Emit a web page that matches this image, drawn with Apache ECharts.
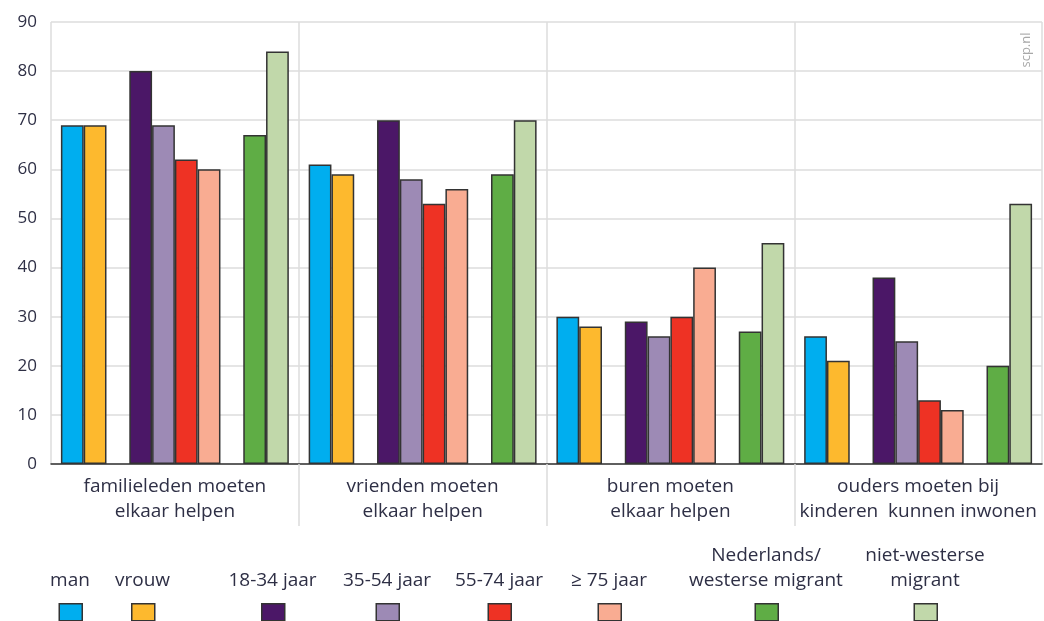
<!DOCTYPE html>
<html>
<head>
<meta charset="utf-8">
<script src="https://cdn.jsdelivr.net/npm/echarts@6/dist/echarts.min.js"></script>
<style>html,body{margin:0;padding:0;background:#fff}#c{width:1044px;height:621px}</style>
</head>
<body>
<div id="c"></div>
<script>
const categories = [
  'familieleden moeten\nelkaar helpen',
  'vrienden moeten\nelkaar helpen',
  'buren moeten\nelkaar helpen',
  'ouders moeten bij\nkinderen  kunnen inwonen'
];
const seriesNames = ['man', 'vrouw', '18-34 jaar', '35-54 jaar', '55-74 jaar', '≥ 75 jaar', 'Nederlands/\nwesterse migrant', 'niet-westerse\nmigrant'];
const man = [69, 61, 30, 26];
const vrouw = [69, 59, 28, 21];
const age18_34 = [80, 70, 29, 38];
const age35_54 = [69, 58, 26, 25];
const age55_74 = [62, 53, 30, 13];
const age75plus = [60, 56, 40, 11];
const nlWesters = [67, 59, 27, 20];
const nietWesters = [84, 70, 45, 53];
const emptyGap = ['-', '-', '-', '-'];
const yTicks = { min: 0, max: 90, interval: 10 };
const groupBoundaries = [1, 2, 3];

const colors = ['#00AEEF', '#FDB92E', '#4B1767', '#9D8AB5', '#EE3224', '#F9AC92', '#5FAD45', '#C1D8AA'];
const values = [man, vrouw, age18_34, age35_54, age55_74, age75plus, nlWesters, nietWesters];
const legendX = [70, 142.5, 272.5, 387, 499, 609, 766, 925];

const textColor = '#2e2f45';
const border = { borderColor: '#333', borderWidth: 1.5 };

function barSeries(i) {
  return {
    name: seriesNames[i], type: 'bar', data: values[i],
    itemStyle: Object.assign({ color: colors[i] }, border),
    barGap: 0, barCategoryGap: '8%', silent: true
  };
}
function gapSeries(k) {
  return { name: 'gap' + k, type: 'bar', data: emptyGap, barGap: 0, barCategoryGap: '8%', silent: true };
}
const series = [barSeries(0), barSeries(1), gapSeries(1), barSeries(2), barSeries(3), barSeries(4), barSeries(5), gapSeries(2), barSeries(6), barSeries(7)];

const legends = seriesNames.map((n, i) => ({
  data: [n], left: legendX[i] - 11.5, top: 603, itemWidth: 23, itemHeight: 17,
  icon: 'rect', selectedMode: false, formatter: () => '',
  itemStyle: border, padding: 0
}));

const graphics = seriesNames.map((n, i) => ({
  type: 'text', x: legendX[i], y: 593,
  style: { text: n, fill: textColor, font: '19px "Open Sans"', align: 'center', verticalAlign: 'bottom', lineHeight: 25 }
}));
graphics.push({
  type: 'text', x: 1026, y: 50, rotation: Math.PI / 2,
  style: { text: 'scp.nl', fill: '#a8a8a8', font: '13px "Open Sans"', align: 'center', verticalAlign: 'middle', backgroundColor: '#fff', padding: [0, 3] }
});

const chart = echarts.init(document.getElementById('c'), null, { renderer: 'canvas' });
chart.setOption({
  animation: false,
  backgroundColor: '#fff',
  textStyle: { fontFamily: 'Open Sans' },
  grid: { left: 51, right: 2, top: 22, bottom: 157, containLabel: false },
  xAxis: [{
    type: 'category', data: categories,
    axisLine: { lineStyle: { color: '#333', width: 1.5 } },
    axisTick: { alignWithLabel: true, length: 8, lineStyle: { color: '#333', width: 1.5 } },
    axisLabel: { fontSize: 19, color: textColor, lineHeight: 25, margin: 10, interval: 0 },
    splitLine: { show: true, lineStyle: { color: '#dcdcdc', width: 1.5 } }
  }, {
    type: 'value', min: 0, max: 4, position: 'bottom',
    axisLine: { show: false },
    axisLabel: { show: false },
    splitLine: { show: false },
    axisTick: { show: true, customValues: groupBoundaries, length: 62, lineStyle: { color: '#dcdcdc', width: 1.5 } }
  }],
  yAxis: {
    type: 'value', min: yTicks.min, max: yTicks.max, interval: yTicks.interval,
    axisLine: { show: false }, axisTick: { show: false },
    axisLabel: { fontSize: 17, color: textColor, margin: 14 },
    splitLine: { lineStyle: { color: '#dcdcdc', width: 1.5 } }
  },
  legend: legends,
  series: series,
  graphic: graphics
});
</script>
</body>
</html>
